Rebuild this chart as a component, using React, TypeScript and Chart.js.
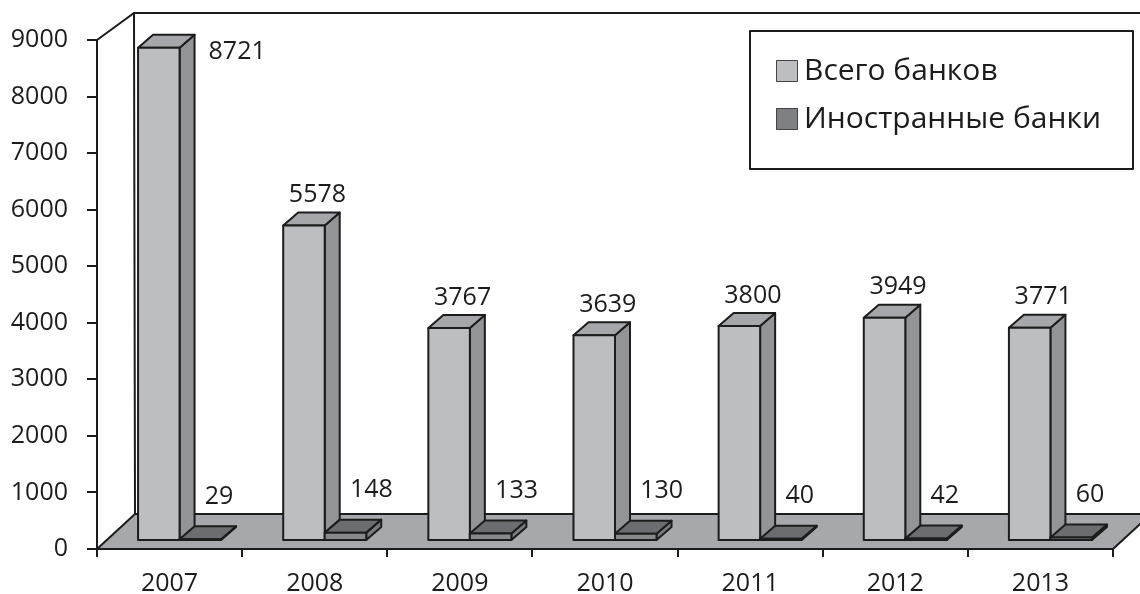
import React, { useEffect, useRef } from 'react';
import { Chart, registerables } from 'chart.js';

Chart.register(...registerables);

const categories = ['2007', '2008', '2009', '2010', '2011', '2012', '2013'];
const totalBanks = [8721, 5578, 3767, 3639, 3800, 3949, 3771];
const foreignBanks = [29, 148, 133, 130, 40, 42, 60];
const seriesLabels = ['Всего банков', 'Иностранные банки'];
const yMin = 0;
const yMax = 9000;
const yStep = 1000;

const FONT = "'Open Sans', 'Noto Sans', sans-serif";
const INK = '#1c1c1c';

const palette = [
  { front: '#bdbec2', top: '#a6a7ab', side: '#939498', legend: '#bdbec2' },
  { front: '#898a8e', top: '#6c6d71', side: '#7a7b7f', legend: '#7f8084' },
];

const geo = {
  barShiftX: 10,
  barShiftY: -8,
  depthX: 15,
  depthY: -13,
  floorDX: 38,
  floorDY: -35,
  wallDX: 37,
  wallDY: -27,
};

const threeDPlugin = {
  id: 'threeD',
  beforeDatasetsDraw(chart: any) {
    const { ctx, chartArea: a } = chart;
    const ys = chart.scales.y;
    const y0 = ys.getPixelForValue(yMin);
    const yT = ys.getPixelForValue(yMax);
    ctx.save();
    ctx.strokeStyle = INK;
    ctx.lineWidth = 2;
    ctx.lineJoin = 'miter';
    ctx.beginPath();
    ctx.moveTo(a.left, yT);
    ctx.lineTo(a.left + geo.wallDX, yT + geo.wallDY);
    ctx.lineTo(a.right + geo.wallDX, yT + geo.wallDY);
    ctx.moveTo(a.left + geo.wallDX, yT + geo.wallDY);
    ctx.lineTo(a.left + geo.floorDX, y0 + geo.floorDY);
    ctx.stroke();
    ctx.beginPath();
    ctx.moveTo(a.left, y0);
    ctx.lineTo(a.right, y0);
    ctx.lineTo(a.right + geo.floorDX, y0 + geo.floorDY);
    ctx.lineTo(a.left + geo.floorDX, y0 + geo.floorDY);
    ctx.closePath();
    ctx.fillStyle = '#a7a8ab';
    ctx.fill();
    ctx.stroke();
    ctx.restore();
  },
  afterDatasetsDraw(chart: any) {
    const { ctx, chartArea: a } = chart;
    const n = chart.data.labels.length;
    const nd = chart.data.datasets.length;
    const dx = geo.depthX;
    const dy = geo.depthY;
    const labels: any[] = [];
    ctx.save();
    ctx.strokeStyle = INK;
    ctx.lineWidth = 2;
    ctx.lineJoin = 'round';
    for (let i = 0; i < n; i++) {
      for (let d = 0; d < nd; d++) {
        const el = chart.getDatasetMeta(d).data[i];
        const p = el.getProps(['x', 'y', 'base', 'width'], true);
        const x0 = p.x - p.width / 2 + geo.barShiftX;
        const x1 = p.x + p.width / 2 + geo.barShiftX;
        const top = p.y + geo.barShiftY;
        const bot = p.base + geo.barShiftY;
        const c = palette[d];
        ctx.beginPath();
        ctx.moveTo(x1, top);
        ctx.lineTo(x1 + dx, top + dy);
        ctx.lineTo(x1 + dx, bot + dy);
        ctx.lineTo(x1, bot);
        ctx.closePath();
        ctx.fillStyle = c.side;
        ctx.fill();
        ctx.stroke();
        ctx.beginPath();
        ctx.moveTo(x0, top);
        ctx.lineTo(x0 + dx, top + dy);
        ctx.lineTo(x1 + dx, top + dy);
        ctx.lineTo(x1, top);
        ctx.closePath();
        ctx.fillStyle = c.top;
        ctx.fill();
        ctx.stroke();
        ctx.beginPath();
        ctx.rect(x0, top, x1 - x0, bot - top);
        ctx.fillStyle = c.front;
        ctx.fill();
        ctx.stroke();

        const value = chart.data.datasets[d].data[i];
        const cx = (x0 + x1) / 2 + dx / 2;
        const cy = top + dy / 2;
        labels.push({ d, value, cx, cy, x1, top });
      }
    }
    ctx.font = `25px ${FONT}`;
    ctx.fillStyle = INK;
    ctx.textBaseline = 'middle';
    for (const L of labels) {
      const text = String(L.value);
      if (L.d === 0) {
        const lx = L.cx + 6;
        const ly = L.cy - 24;
        if (ly - 12 < a.top) {
          ctx.textAlign = 'left';
          ctx.fillText(text, L.x1 + dx + 14, L.top + 4);
        } else {
          ctx.textAlign = 'center';
          ctx.fillText(text, lx, ly);
        }
      } else {
        ctx.textAlign = 'left';
        ctx.fillText(text, L.cx - 3, L.cy - 36);
      }
    }
    const boxL = a.right - 363;
    const boxT = 31;
    const boxW = 383;
    const boxH = 138;
    ctx.fillStyle = '#ffffff';
    ctx.fillRect(boxL, boxT, boxW, boxH);
    ctx.strokeRect(boxL, boxT, boxW, boxH);
    ctx.font = `30px ${FONT}`;
    for (let d = 0; d < nd; d++) {
      const iy = boxT + 40 + d * 48;
      ctx.fillStyle = palette[d].legend;
      ctx.fillRect(boxL + 26, iy - 11, 22, 22);
      ctx.lineWidth = 1;
      ctx.strokeStyle = '#444';
      ctx.strokeRect(boxL + 26.5, iy - 10.5, 21, 21);
      ctx.fillStyle = INK;
      ctx.textAlign = 'left';
      ctx.textBaseline = 'middle';
      ctx.fillText(chart.data.datasets[d].label, boxL + 54, iy);
    }
    ctx.restore();
  },
};

export default function App() {
  const ref = useRef<HTMLCanvasElement | null>(null);
  useEffect(() => {
    document.body.style.margin = '0';
    const canvas = ref.current;
    if (!canvas) return;
    const chart = new Chart(canvas, {
      type: 'bar',
      data: {
        labels: categories,
        datasets: [
          { label: seriesLabels[0], data: totalBanks, backgroundColor: 'rgba(0,0,0,0)', borderWidth: 0 },
          { label: seriesLabels[1], data: foreignBanks, backgroundColor: 'rgba(0,0,0,0)', borderWidth: 0 },
        ],
      },
      options: {
        animation: false,
        responsive: true,
        maintainAspectRatio: false,
        layout: { padding: { top: 40, right: 27, left: 0, bottom: 0 } },
        datasets: { bar: { categoryPercentage: 0.572, barPercentage: 1.0 } },
        plugins: { legend: { display: false }, tooltip: { enabled: false } },
        scales: {
          x: {
            afterFit: (s: any) => { s.height = 45; },
            grid: { drawOnChartArea: false, color: INK, lineWidth: 2, tickLength: 8, offset: true },
            border: { display: true, color: INK, width: 2 },
            ticks: { color: INK, font: { family: FONT, size: 25 }, padding: 12, maxRotation: 0 },
          },
          y: {
            min: yMin,
            max: yMax,
            afterFit: (s: any) => { s.width = 97; },
            grid: { drawOnChartArea: false, color: INK, lineWidth: 2, tickLength: 10 },
            border: { display: true, color: INK, width: 2 },
            ticks: {
              stepSize: yStep,
              color: INK,
              font: { family: FONT, size: 25 },
              padding: 19,
              callback: (v: any) => String(v),
            },
          },
        },
      },
      plugins: [threeDPlugin],
    });
    return () => chart.destroy();
  }, []);
  return (
    <div style={{ width: 1140, height: 594, position: 'relative' }}>
      <canvas ref={ref} />
    </div>
  );
}
